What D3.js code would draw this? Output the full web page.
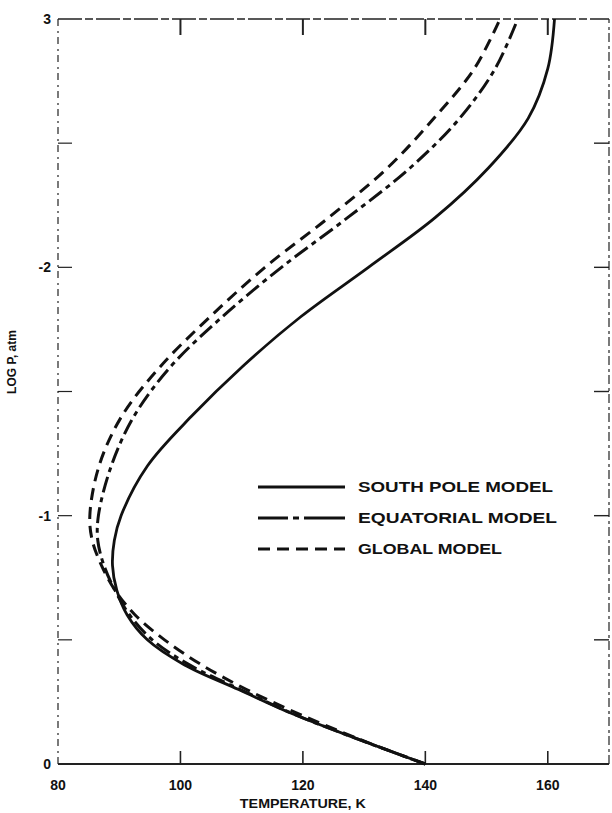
<!DOCTYPE html>
<html>
<head>
<meta charset="utf-8">
<script src="https://cdn.jsdelivr.net/npm/d3@7"></script>
<style>
  body { margin: 0; background: #fff; }
  svg { display: block; }
  text { font-family: 'Liberation Sans', Arial, sans-serif; font-weight: bold; fill: #111; }
</style>
</head>
<body>
<div id="app"></div>
<script>
// log pressure levels (atm) and temperatures (K)
const logP      = [0, -0.1, -0.2, -0.3, -0.4, -0.5, -0.6, -0.7, -0.8, -0.9, -1.0, -1.2, -1.4, -1.6, -1.8, -2.0, -2.2, -2.4, -2.6, -2.8, -3.0]
const southPole = [140, 129.0, 118.5, 109.5, 100.6, 94.6, 91.3, 89.6, 88.9, 89.2, 90.3, 94.6, 101.8, 110.1, 119.6, 130.7, 141.6, 150.3, 156.8, 160.0, 161.1]
const equatorial= [140, 129.0, 118.6, 109.8, 101.4, 95.4, 91.7, 89.3, 87.5, 86.5, 86.6, 88.7, 92.4, 98.4, 106.8, 116.5, 127.3, 137.5, 145.6, 151.4, 155.1]
const global    = [140, 129.2, 119.5, 110.8, 103.4, 97.4, 92.6, 89.3, 87.1, 85.6, 85.2, 86.7, 90.4, 96.7, 104.8, 113.8, 124.2, 133.8, 141.4, 148.0, 152.2]

const seriesNames = ['SOUTH POLE MODEL', 'EQUATORIAL MODEL', 'GLOBAL MODEL']
const seriesDash  = [null, '16,5,5,5', '12,7']

const xTicks      = [80, 100, 120, 140, 160]
const xTopTicks   = [100, 120, 140, 160]
const yLabelTicks = [0, -1, -2, -3]
const yLabels     = ['0', '-1', '-2', '3']
const yMinorTicks = [-0.5, -1, -1.5, -2, -2.5]

const W = 612, H = 813
const svg = d3.select('#app').append('svg').attr('width', W).attr('height', H)

const x = d3.scaleLinear().domain([80, 170]).range([58, 609])
const y = d3.scaleLinear().domain([0, -3]).range([764, 19])

// frame: bottom solid, the rest look like broken scan lines
const frame = svg.append('g').attr('fill', 'none').attr('stroke', '#222')
frame.append('line')
  .attr('x1', x(80)).attr('x2', x(170)).attr('y1', y(0)).attr('y2', y(0))
  .attr('stroke-width', 2.2)
frame.append('line')
  .attr('x1', x(80)).attr('x2', x(80)).attr('y1', y(0)).attr('y2', y(-3))
  .attr('stroke-width', 1.2).attr('stroke-dasharray', '7,4,2,5')
frame.append('line')
  .attr('x1', x(170)).attr('x2', x(170)).attr('y1', y(0)).attr('y2', y(-3))
  .attr('stroke-width', 1.2).attr('stroke-dasharray', '9,3,3,4')
frame.append('line')
  .attr('x1', x(80)).attr('x2', x(170)).attr('y1', y(-3)).attr('y2', y(-3))
  .attr('stroke-width', 1.4).attr('stroke-dasharray', '24,3,8,3')

// inward ticks
const ticks = svg.append('g').attr('stroke', '#222').attr('stroke-width', 1.6)
ticks.selectAll('line.xb').data(xTicks.slice(1)).enter().append('line')
  .attr('x1', d => x(d)).attr('x2', d => x(d)).attr('y1', y(0)).attr('y2', y(0) - 13)
ticks.selectAll('line.xt').data(xTopTicks).enter().append('line')
  .attr('x1', d => x(d)).attr('x2', d => x(d)).attr('y1', y(-3)).attr('y2', y(-3) + 16)
  .attr('stroke-width', 2)
ticks.selectAll('line.yl').data(yMinorTicks).enter().append('line')
  .attr('x1', x(80)).attr('x2', x(80) + 14).attr('y1', d => y(d)).attr('y2', d => y(d))
  .attr('stroke-width', 1.2)
ticks.selectAll('line.yr').data(yMinorTicks).enter().append('line')
  .attr('x1', x(170)).attr('x2', x(170) - 15).attr('y1', d => y(d)).attr('y2', d => y(d))
  .attr('stroke-width', 1.4)

// tick labels
svg.append('g').selectAll('text').data(xTicks).enter().append('text')
  .attr('x', d => x(d)).attr('y', y(0) + 26)
  .attr('text-anchor', 'middle').attr('font-size', 14)
  .text(d => d)
svg.append('g').selectAll('text').data(yLabelTicks).enter().append('text')
  .attr('x', x(80) - 7).attr('y', d => y(d) + 5)
  .attr('text-anchor', 'end').attr('font-size', 14)
  .text((d, i) => yLabels[i])

// axis titles
svg.append('text')
  .attr('x', x(120)).attr('y', 808)
  .attr('text-anchor', 'middle').attr('font-size', 13)
  .attr('textLength', 126).attr('lengthAdjust', 'spacingAndGlyphs')
  .text('TEMPERATURE, K')
svg.append('text')
  .attr('transform', 'translate(16,362) rotate(-90)')
  .attr('text-anchor', 'middle').attr('font-size', 12)
  .text('LOG P, atm')

// profiles
const series = [southPole, equatorial, global].map(vals => vals.map((t, i) => ({ t: t, p: logP[i] })))
const line = d3.line().x(d => x(d.t)).y(d => y(d.p)).curve(d3.curveCatmullRom.alpha(0.5))

svg.append('g').selectAll('path.profile').data(series).enter().append('path')
  .attr('class', 'profile')
  .attr('d', line)
  .attr('fill', 'none')
  .attr('stroke', '#111')
  .attr('stroke-width', (d, i) => i === 0 ? 2.8 : 3)
  .attr('stroke-dasharray', (d, i) => seriesDash[i])

// legend
const legendWidths = [195, 199, 144]
const legend = svg.append('g').attr('transform', 'translate(258,487)')
const rows = legend.selectAll('g').data(seriesNames).enter().append('g')
  .attr('transform', (d, i) => `translate(0,${i * 31})`)
rows.append('line')
  .attr('x1', 0).attr('x2', 87).attr('y1', 0).attr('y2', 0)
  .attr('stroke', '#111').attr('stroke-width', 3)
  .attr('stroke-dasharray', (d, i) => i === 1 ? '30,5,6,5,41' : seriesDash[i])
rows.append('text')
  .attr('x', 100).attr('y', 5)
  .attr('font-size', 14)
  .attr('textLength', (d, i) => legendWidths[i]).attr('lengthAdjust', 'spacingAndGlyphs')
  .text(d => d)
</script>
</body>
</html>
